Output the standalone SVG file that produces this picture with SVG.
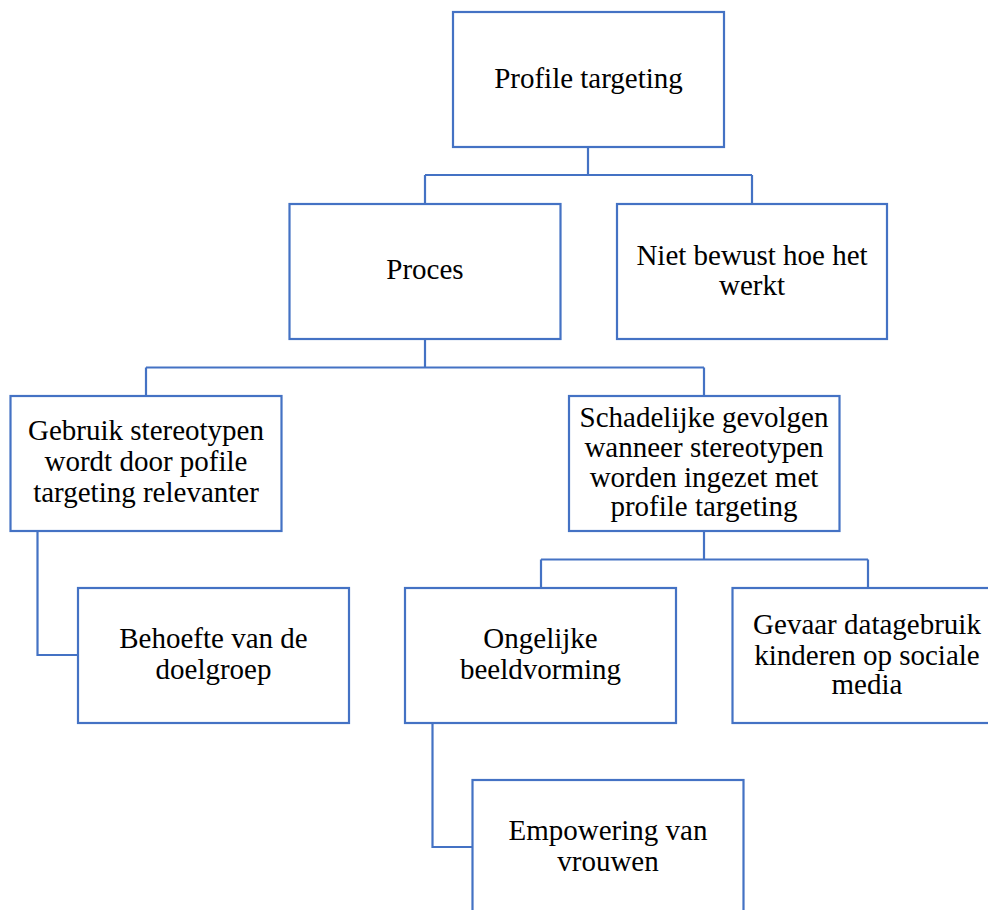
<svg xmlns="http://www.w3.org/2000/svg" width="988" height="910" viewBox="0 0 988 910">
<style>
.box{fill:#FFFFFF;stroke:#4472C4;stroke-width:2.2}
.con{fill:none;stroke:#4472C4;stroke-width:2.2}
.lbl{font-family:'Liberation Serif','Times New Roman',serif;font-size:29px;fill:#000000;text-anchor:middle}
</style>
<rect width="988" height="910" fill="#FFFFFF"/>
<g id="connectors">
<path class="con" d="M588,147 V175 M425,175 H752 M425,175 V204 M752,175 V204"/>
<path class="con" d="M425,339 V367.5 M146,367.5 H704 M146,367.5 V396 M704,367.5 V396"/>
<path class="con" d="M37.5,531 V655 H78"/>
<path class="con" d="M704,531 V559.5 M541,559.5 H868 M541,559.5 V588 M868,559.5 V588"/>
<path class="con" d="M432.5,723 V847 H472"/>
</g>
<g id="n-profile">
<rect class="box" x="453" y="12" width="271" height="135"/>
<text class="lbl" x="588.5" y="88">Profile targeting</text>
</g>
<g id="n-proces">
<rect class="box" x="289.5" y="204" width="271" height="135"/>
<text class="lbl" x="425" y="279">Proces</text>
</g>
<g id="n-niet">
<rect class="box" x="617" y="204" width="270" height="135"/>
<text class="lbl" x="752" y="265">Niet bewust hoe het</text>
<text class="lbl" x="752" y="295">werkt</text>
</g>
<g id="n-gebruik">
<rect class="box" x="10.5" y="396" width="271" height="135"/>
<text class="lbl" x="146" y="440">Gebruik stereotypen</text>
<text class="lbl" x="146" y="471">wordt door pofile</text>
<text class="lbl" x="146" y="502">targeting relevanter</text>
</g>
<g id="n-schadelijk">
<rect class="box" x="569" y="396" width="270.5" height="135"/>
<text class="lbl" x="704" y="426.5">Schadelijke gevolgen</text>
<text class="lbl" x="704" y="456.5">wanneer stereotypen</text>
<text class="lbl" x="704" y="486.5">worden ingezet met</text>
<text class="lbl" x="704" y="515.5">profile targeting</text>
</g>
<g id="n-behoefte">
<rect class="box" x="78" y="588" width="271" height="135"/>
<text class="lbl" x="213.5" y="648">Behoefte van de</text>
<text class="lbl" x="213.5" y="679">doelgroep</text>
</g>
<g id="n-ongelijke">
<rect class="box" x="405" y="588" width="271" height="135"/>
<text class="lbl" x="540.5" y="648">Ongelijke</text>
<text class="lbl" x="540.5" y="679">beeldvorming</text>
</g>
<g id="n-gevaar">
<rect class="box" x="732.5" y="588" width="271" height="135"/>
<text class="lbl" x="867" y="634">Gevaar datagebruik</text>
<text class="lbl" x="867" y="665">kinderen op sociale</text>
<text class="lbl" x="867" y="694">media</text>
</g>
<g id="n-empowering">
<rect class="box" x="472.5" y="780" width="271" height="135"/>
<text class="lbl" x="608" y="840">Empowering van</text>
<text class="lbl" x="608" y="871">vrouwen</text>
</g>
</svg>
